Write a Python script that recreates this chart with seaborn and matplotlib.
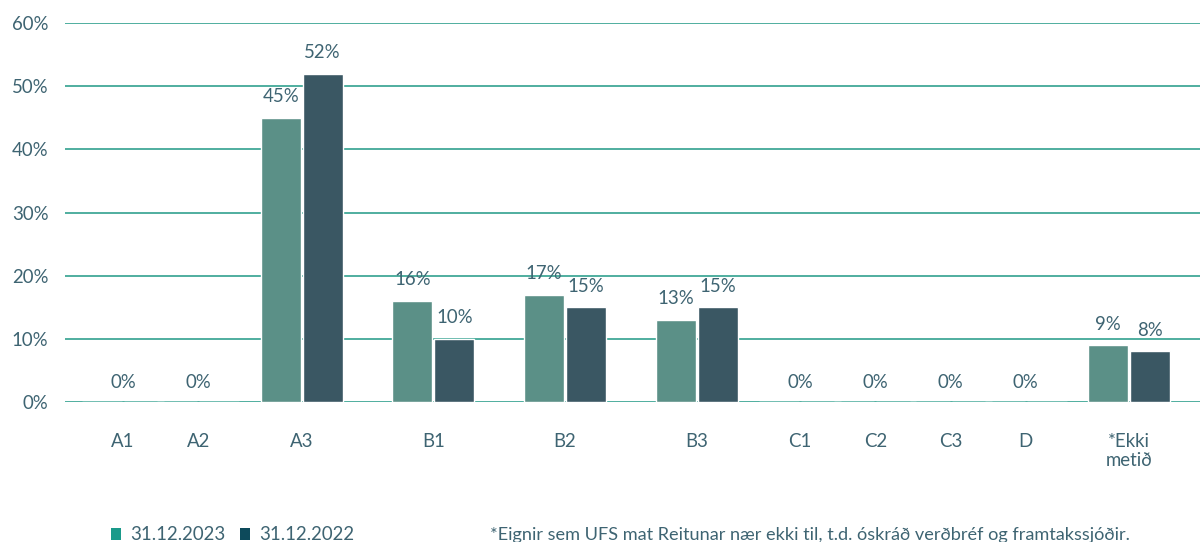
import numpy as np
import pandas as pd
import matplotlib
matplotlib.use("Agg")
import matplotlib.pyplot as plt
from matplotlib.patches import Patch
import seaborn as sns

# Data
categories = ["A1", "A2", "A3", "B1", "B2", "B3", "C1", "C2", "C3", "D", "*Ekki\nmetið"]
share_2023 = [0, 0, 45, 16, 17, 13, 0, 0, 0, 0, 9]
share_2022 = [0, 0, 52, 10, 15, 15, 0, 0, 0, 0, 8]
series_names = ["31.12.2023", "31.12.2022"]
y_ticks = [0, 10, 20, 30, 40, 50, 60]
footnote = "*Eignir sem UFS mat Reitunar nær ekki til, t.d. óskráð verðbréf og framtakssjóðir."

# Style
bar_colors = {"31.12.2023": "#5b9087", "31.12.2022": "#3a5763"}
legend_colors = ["#1a9a8a", "#0d4a5b"]
text_color = "#3e6472"
grid_color = "#4fae9f"
fs = 13.4

sns.set_theme(style="white")
plt.rcParams["font.family"] = ["Lato", "DejaVu Sans"]

# Categories holding bars get a wider slot than empty ones
narrow, wide = 1.0, 1.75
slot = [wide if max(a, b) > 0 else narrow for a, b in zip(share_2023, share_2022)]
centers = []
pos = 0.0
for i, w in enumerate(slot):
    if i > 0:
        pos += (slot[i - 1] + w) / 2
    centers.append(pos)
centers = np.array(centers)

df = pd.DataFrame({
    "x": np.concatenate([centers, centers]),
    "value": share_2023 + share_2022,
    "series": [series_names[0]] * len(categories) + [series_names[1]] * len(categories),
})

fig = plt.figure(figsize=(12, 5.42), dpi=100)
ax = fig.add_axes([65 / 1200, 1 - 402 / 542, 1 - 65 / 1200, (402 - 23) / 542])

sns.barplot(data=df, x="x", y="value", hue="series", hue_order=series_names,
            palette=bar_colors, native_scale=True, width=1.117, gap=0.05,
            errorbar=None, legend=False, saturation=1, ax=ax, zorder=3)

ax.set_xlim(centers[0] - 0.77, centers[-1] + 0.94)
ax.set_ylim(0, 60)
ax.set_yticks(y_ticks)
ax.set_yticklabels([f"{t}%" for t in y_ticks])
ax.set_xticks(centers)
ax.set_xticklabels(categories)
ax.tick_params(axis="both", length=0, labelsize=fs, colors=text_color)
ax.tick_params(axis="x", pad=22)
ax.tick_params(axis="y", pad=12)
for lbl in ax.get_xticklabels():
    lbl.set_verticalalignment("top")
    lbl.set_linespacing(1.2)
ax.set_xlabel("")
ax.set_ylabel("")
for s in ax.spines.values():
    s.set_visible(False)
ax.grid(axis="y", color=grid_color, linewidth=1.4, zorder=0)
ax.grid(axis="x", visible=False)
ax.set_axisbelow(True)

# Value labels
for container, vals in zip(ax.containers, [share_2023, share_2022]):
    labels = [f"{v}%" if (a > 0 or b > 0) else "" for v, a, b in zip(vals, share_2023, share_2022)]
    ax.bar_label(container, labels=labels, padding=9, fontsize=fs, color=text_color)
for c, a, b in zip(centers, share_2023, share_2022):
    if a == 0 and b == 0:
        ax.annotate("0%", xy=(c, 0), xytext=(0, 8), textcoords="offset points",
                    ha="center", va="bottom", fontsize=fs, color=text_color)

# Legend and footnote
handles = [Patch(facecolor=col, edgecolor="none") for col in legend_colors]
fig.legend(handles, series_names, loc="center left", bbox_to_anchor=(111 / 1200, 1 - 535 / 542),
           ncol=2, frameon=False, fontsize=fs, labelcolor=text_color,
           handlelength=0.55, handleheight=0.55, handletextpad=0.5, columnspacing=0.75,
           borderpad=0, borderaxespad=0)
fig.text(490 / 1200, 1 - 535 / 542, footnote, ha="left", va="center",
         fontsize=13.1, color=text_color)

fig.savefig("out.png", dpi=100)
